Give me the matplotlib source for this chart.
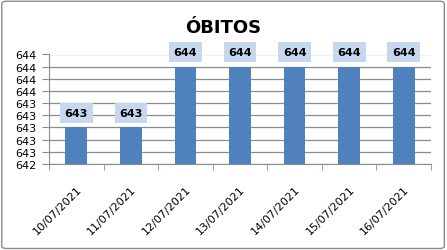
import matplotlib
matplotlib.use('Agg')
import matplotlib.pyplot as plt
from matplotlib.patches import FancyBboxPatch

dates = ['10/07/2021', '11/07/2021', '12/07/2021', '13/07/2021',
         '14/07/2021', '15/07/2021', '16/07/2021']
obitos = [643, 643, 644, 644, 644, 644, 644]
y_ticks = [642.4, 642.6, 642.8, 643.0, 643.2, 643.4, 643.6, 643.8, 644.0, 644.2]

fig = plt.figure(figsize=(4.47, 2.51), dpi=100)
fig.patch.set_facecolor('white')
fig.patches.append(FancyBboxPatch((0.004, 0.006), 0.99, 0.985,
                                  boxstyle='round,pad=0,rounding_size=0.01',
                                  transform=fig.transFigure, fill=False,
                                  edgecolor='#8C8C8C', linewidth=1))

ax = fig.add_axes([49 / 447, 1 - 165 / 251, (431 - 49) / 447, (165 - 55.5) / 251])
x = range(len(dates))
ax.bar(x, obitos, width=0.4, color='#4F81BD', zorder=3)
ax.set_ylim(642.4, 644.2)
ax.set_xlim(-0.5, len(dates) - 0.5)
ax.set_yticks(y_ticks)
ax.set_yticklabels([f'{round(v):d}' for v in y_ticks], fontsize=8,
                   family='DejaVu Sans')
ax.set_xticks(list(x))
ax.set_xticklabels(dates, rotation=45, ha='right', rotation_mode='anchor',
                   fontsize=8, family='DejaVu Sans')
ax.grid(axis='y', color='#8C8C8C', linewidth=0.9, zorder=0)
for side in ['top', 'right']:
    ax.spines[side].set_visible(False)
ax.spines['left'].set_color('#8C8C8C')
ax.spines['bottom'].set_color('#8C8C8C')
ax.tick_params(axis='y', length=5, color='#8C8C8C', pad=4)
ax.set_xticks([i - 0.5 for i in range(len(dates) + 1)], minor=True)
ax.tick_params(axis='x', which='major', length=0, pad=14)
ax.tick_params(axis='x', which='minor', length=4, color='#8C8C8C')

for i, v in enumerate(obitos):
    ax.annotate(f'{v}', (i, v), xytext=(0, 10.5), textcoords='offset points',
                ha='center', va='center', fontsize=8, fontweight='bold',
                family='DejaVu Sans', zorder=5, annotation_clip=False,
                bbox=dict(boxstyle='square,pad=0.42', facecolor='#C6D7EE',
                          edgecolor='none'))

fig.text(223 / 447, 1 - 33 / 251, 'ÓBITOS', ha='center', va='baseline',
         fontsize=13, fontweight='bold', family='DejaVu Sans')

fig.savefig('out.png', dpi=100)
